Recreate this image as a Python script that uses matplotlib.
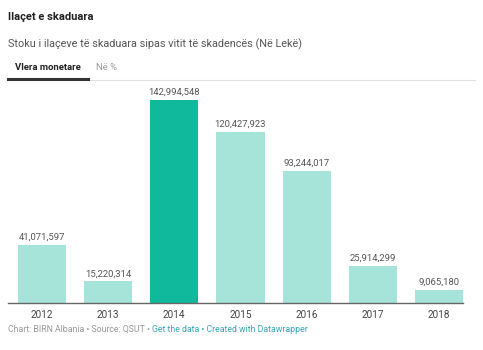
import matplotlib.pyplot as plt
import numpy as np

plt.rcParams['font.family'] = ['Roboto', 'DejaVu Sans']

years = ['2012', '2013', '2014', '2015', '2016', '2017', '2018']
values = [41071597, 15220314, 142994548, 120427923, 93244017, 25914299, 9065180]
highlight = '2014'

W, H = 483, 350
fig = plt.figure(figsize=(W / 100, H / 100), dpi=100)
fig.patch.set_facecolor('white')

# plot area in pixels: left 8, right 463, bottom at y=303, top at y=100
ax = fig.add_axes([8 / W, 47 / H, 455 / W, 203 / H])
x = np.arange(len(years))
colors = ['#10b99b' if y == highlight else '#a6e4da' for y in years]
ax.bar(x, values, width=0.73, color=colors, zorder=2)

for xi, v in zip(x, values):
    ax.text(xi, v + 2.2e6, f'{v:,}', ha='center', va='bottom',
            fontsize=6.8, color='#555555')

ax.set_xlim(-0.51, 6.36)
ax.set_ylim(0, max(values))
ax.set_xticks(x)
ax.set_xticklabels(years, fontsize=7.2, color='#444444')
ax.tick_params(axis='x', length=0, pad=5)
ax.set_yticks([])
for s in ['top', 'left', 'right']:
    ax.spines[s].set_visible(False)
ax.spines['bottom'].set_color('#666666')
ax.spines['bottom'].set_linewidth(1.0)

# header
fig.text(8 / W, 1 - 17 / H, 'Ilaçet e skaduara', fontsize=8, fontweight='bold',
         color='#222222', va='center')
fig.text(8 / W, 1 - 44 / H, 'Stoku i ilaçeve të skaduara sipas vitit të skadencës (Në Lekë)',
         fontsize=7.8, color='#555555', va='center')
fig.text(15 / W, 1 - 67 / H, 'Vlera monetare', fontsize=6.8, fontweight='bold',
         color='#222222', va='center')
fig.text(96 / W, 1 - 67 / H, 'Në %', fontsize=6.8, color='#999999', va='center')

# tab underline
fig.add_artist(plt.Line2D([8 / W, 475 / W], [1 - 80 / H, 1 - 80 / H],
                          color='#e2e2e2', linewidth=0.8))
fig.add_artist(plt.Line2D([8 / W, 88 / W], [1 - 79 / H, 1 - 79 / H],
                          color='#333333', linewidth=2.2))

# footer
footer_y = 1 - 329 / H
t1 = fig.text(8 / W, footer_y, 'Chart: BIRN Albania • Source: QSUT • ', fontsize=6.3,
              color='#999999', va='center')
fig.canvas.draw()
bb = t1.get_window_extent()
fig.text(bb.x1 / W, footer_y, 'Get the data • Created with Datawrapper', fontsize=6.3,
         color='#3aa5b5', va='center')

fig.savefig('out.png', dpi=100, facecolor='white')
